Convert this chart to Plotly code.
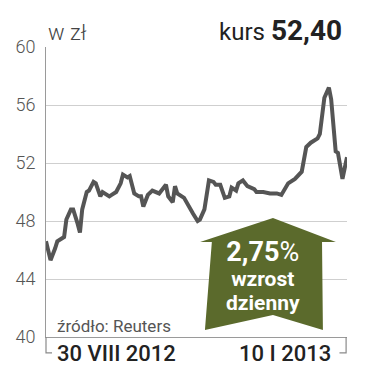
import plotly.graph_objects as go

# ---- data ----
dates = [
    "2012-08-30", "2012-09-01", "2012-09-03", "2012-09-04", "2012-09-07", "2012-09-08",
    "2012-09-10", "2012-09-11", "2012-09-13", "2012-09-14", "2012-09-15", "2012-09-17",
    "2012-09-18", "2012-09-20", "2012-09-21", "2012-09-23", "2012-09-24", "2012-09-27",
    "2012-09-28", "2012-09-30", "2012-10-02", "2012-10-03", "2012-10-05", "2012-10-06",
    "2012-10-08", "2012-10-10", "2012-10-11", "2012-10-12", "2012-10-14", "2012-10-16",
    "2012-10-19", "2012-10-22", "2012-10-23", "2012-10-25", "2012-10-26", "2012-10-27",
    "2012-10-30", "2012-11-01", "2012-11-03", "2012-11-05", "2012-11-06", "2012-11-08",
    "2012-11-09", "2012-11-10", "2012-11-12", "2012-11-13", "2012-11-15", "2012-11-17",
    "2012-11-19", "2012-11-20", "2012-11-22", "2012-11-23", "2012-11-25", "2012-11-27",
    "2012-11-30", "2012-12-01", "2012-12-04", "2012-12-07", "2012-12-10", "2012-12-12",
    "2012-12-15", "2012-12-18", "2012-12-21", "2012-12-23", "2012-12-25", "2012-12-28",
    "2012-12-29", "2012-12-31", "2013-01-02", "2013-01-03", "2013-01-05", "2013-01-06",
    "2013-01-08", "2013-01-10",
]
prices = [
    46.6, 45.3, 46.1, 46.6, 46.9, 48.1,
    48.8, 48.8, 47.8, 47.2, 48.8, 50.0,
    50.1, 50.7, 50.6, 49.7, 50.0, 49.7,
    49.8, 50.0, 50.6, 51.2, 51.0, 51.1,
    49.9, 49.7, 49.7, 49.0, 49.8, 50.1,
    49.9, 50.5, 49.7, 49.3, 50.4, 49.9,
    49.6, 49.0, 48.5, 48.0, 48.1, 48.8,
    49.9, 50.8, 50.7, 50.5, 50.5, 49.6,
    49.7, 50.3, 50.1, 50.6, 50.8, 50.4,
    50.2, 50.0, 50.0, 49.9, 49.9, 49.8,
    50.6, 50.9, 51.4, 53.1, 53.4, 53.7,
    54.0, 56.5, 57.2, 56.4, 52.8, 52.7,
    50.9, 52.4,
]
y_ticks = [40, 44, 48, 52, 56, 60]
x_start_label = "30 VIII 2012"
x_end_label = "10 I 2013"
unit_label = "w zł"
price_label = "52,40"
change_label = "2,75"

FONT = "Roboto"

fig = go.Figure()
fig.add_trace(go.Scatter(
    x=dates, y=prices, mode="lines",
    line=dict(color="#555555", width=4),
    hoverinfo="skip", showlegend=False,
))

# arrow (paper coordinates)
arrow = [(0.754, 0.410), (0.963, 0.328), (0.917, 0.328), (0.920, 0.024),
         (0.754, 0.076), (0.528, 0.024), (0.551, 0.328), (0.512, 0.328)]
path = "M " + " L ".join(f"{x},{y}" for x, y in arrow) + " Z"

shapes = [
    dict(type="path", xref="paper", yref="paper", path=path,
         fillcolor="#5b6a2c", line=dict(width=0), layer="above"),
    # bottom brackets
    dict(type="path", xref="paper", yref="paper",
         path="M 0,0 L 0,-0.055 L 0.02,-0.055",
         line=dict(color="#8a8a8a", width=1.2)),
    dict(type="path", xref="paper", yref="paper",
         path="M 0.997,0 L 0.997,-0.055 L 0.975,-0.055",
         line=dict(color="#8a8a8a", width=1.2)),
]

badge_text = (f"<span style='font-size:27px'><b>{change_label}</b>%</span><br>"
              "<span style='font-size:21px'><b>wzrost</b></span><br>"
              "<span style='font-size:21px'><b>dzienny</b></span>")

annotations = [
    dict(text=unit_label, xref="paper", yref="paper", x=0.0, y=1.05,
         xanchor="left", yanchor="middle", showarrow=False,
         font=dict(family=FONT, size=22, color="#444444", weight=300)),
    dict(text=f"kurs <span style='font-size:28px'><b>{price_label}</b></span>",
         xref="paper", yref="paper", x=0.99, y=1.057,
         xanchor="right", yanchor="middle", showarrow=False,
         font=dict(family=FONT, size=24, color="#222222")),
    dict(text="źródło: Reuters", xref="paper", yref="paper", x=0.03, y=0.038,
         xanchor="left", yanchor="middle", showarrow=False,
         font=dict(family=FONT, size=17, color="#555555")),
    dict(text=x_start_label, xref="paper", yref="paper", x=0.03, y=-0.056,
         xanchor="left", yanchor="middle", showarrow=False,
         font=dict(family=FONT, size=22, color="#222222", weight=500)),
    dict(text=x_end_label, xref="paper", yref="paper", x=0.955, y=-0.056,
         xanchor="right", yanchor="middle", showarrow=False,
         font=dict(family=FONT, size=22, color="#222222", weight=500)),
    dict(text=badge_text, xref="paper", yref="paper", x=0.722, y=0.212,
         xanchor="center", yanchor="middle", align="center", showarrow=False,
         font=dict(family=FONT, size=19, color="#ffffff")),
]

fig.update_layout(
    width=388, height=376,
    margin=dict(l=46, r=41, t=47, b=39),
    paper_bgcolor="white", plot_bgcolor="white",
    shapes=shapes, annotations=annotations,
    xaxis=dict(range=[dates[0], dates[-1]], showgrid=False, showticklabels=False,
               showline=True, linecolor="#9a9a9a", linewidth=1, ticks="",
               zeroline=False, fixedrange=True),
    yaxis=dict(range=[40, 60], tickvals=y_ticks, ticktext=[str(v) for v in y_ticks],
               showgrid=True, gridcolor="#cfcfcf", gridwidth=1,
               showline=True, linecolor="#9a9a9a", linewidth=1, ticks="",
               ticklabelstandoff=6, zeroline=False,
               tickfont=dict(family=FONT, size=18, color="#555555", weight=300),
               fixedrange=True),
)

fig.write_html("out.html")
